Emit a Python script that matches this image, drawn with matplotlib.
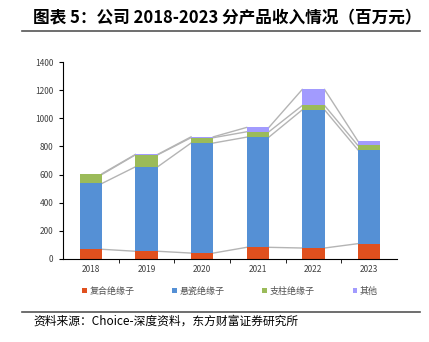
import numpy as np
import matplotlib.pyplot as plt
from matplotlib.lines import Line2D

plt.rcParams['font.family'] = ['Noto Sans CJK SC', 'DejaVu Sans']

years = ["2018", "2019", "2020", "2021", "2022", "2023"]
composite = [69, 55, 42, 83, 78, 109]
suspension = [468, 600, 782, 783, 982, 667]
post = [64, 85, 38, 38, 31, 31]
other = [5, 3, 6, 31, 114, 31]

series = [composite, suspension, post, other]
names = ["复合绝缘子", "悬瓷绝缘子", "支柱绝缘子", "其他"]
colors = ["#E0501E", "#5590D5", "#9BBB59", "#A29BFE"]

fig = plt.figure(figsize=(4.29, 3.42), dpi=100)
ax = fig.add_axes([0.147, 0.2427, 0.778, 0.576])

x = np.arange(len(years))
w = 0.4
bottom = np.zeros(len(years))
for vals, name, c in zip(series, names, colors):
    v = np.array(vals, dtype=float)
    ax.bar(x, v, w, bottom=bottom, color=c, label=name, zorder=2)
    bottom = bottom + v
    # series lines between bars
    for i in range(len(years) - 1):
        ax.plot([x[i] + w / 2, x[i + 1] - w / 2], [bottom[i], bottom[i + 1]],
                color="#B4B4B4", lw=1, zorder=1)

ax.set_xlim(-0.5, len(years) - 0.5)
ax.set_ylim(0, 1400)
ax.set_yticks(range(0, 1401, 200))
ax.tick_params(axis="y", labelsize=6, length=3, direction="out", pad=4,
               labelcolor="#404040")
ax.set_xticks(x)
ax.set_xticklabels(years)
ax.tick_params(axis="x", labelsize=6, length=0, pad=4, labelcolor="#404040")
ax.set_xticks(np.arange(0.5, len(years) - 0.5, 1), minor=True)
ax.tick_params(axis="x", which="minor", length=3, direction="out")
for s in ["top", "right"]:
    ax.spines[s].set_visible(False)
ax.spines["left"].set_linewidth(0.8)
ax.spines["bottom"].set_linewidth(0.8)

leg = ax.legend(loc="upper center", bbox_to_anchor=(0.5, -0.1), ncol=4, frameon=False,
                fontsize=6.5, handlelength=0.5, handleheight=0.5, handletextpad=0.3,
                columnspacing=4.2)
for t in leg.get_texts():
    t.set_color("#505050")

fig.text(0.077, 0.945, "图表 5：公司 2018-2023 分产品收入情况（百万元）",
         fontsize=12, fontweight="bold", va="center")
fig.add_artist(Line2D([0.052, 0.98], [0.908, 0.908], color="#555555", lw=1.2))
fig.add_artist(Line2D([0.052, 0.98], [0.088, 0.088], color="#555555", lw=1.2))
fig.text(0.077, 0.06, "资料来源：Choice-深度资料，东方财富证券研究所",
         fontsize=8.5, va="center")

fig.savefig("out.png", dpi=100)
